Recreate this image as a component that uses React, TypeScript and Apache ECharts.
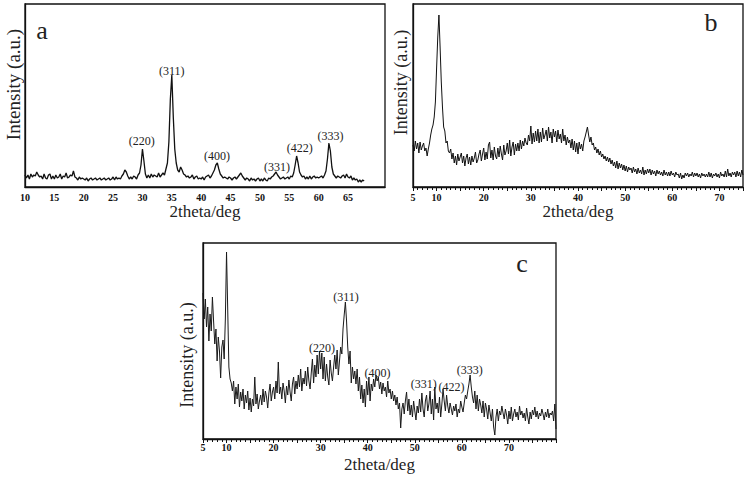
import React, { useEffect, useRef } from "react";
import * as echarts from "echarts";

// ---- Panel a: 2theta from 10.00 deg, step 0.25 deg ----
const aStart = 10;
const aStep = 0.25;
const aIntensity = [
  12, 9, 12, 8, 13, 10, 12, 11, 15, // 10.00-12.00
  12, 10, 11, 8, 13, 9, 8, 12, // 12.25-14
  13, 8, 11, 8, 12, 9, 10, 13, // 14.25-16
  8, 11, 10, 14, 9, 10, 12, 11, // 16.25-18
  16, 10, 9, 7, 10, 8, 9, 8, // 18.25-20
  7, 9, 6, 8, 9, 7, 8, 9, // 20.25-22
  7, 8, 9, 7, 8, 9, 7, 8, // 22.25-24
  9, 7, 8, 10, 7, 10, 8, 9, // 24.25-26
  8, 11, 13, 17, 15, 11, 8, 10, // 26.25-28
  8, 11, 10, 8, 12, 14, 22, 38, // 28.25-30
  26, 13, 9, 12, 9, 13, 10, 12, // 30.25-32
  11, 10, 14, 10, 12, 14, 12, 18, // 32.25-34
  24, 45, 88, 112, 70, 38, 24, 17, // 34.25-36
  15, 20, 17, 13, 12, 10, 11, 9, // 36.25-38
  10, 12, 8, 10, 11, 8, 9, 8, // 38.25-40
  10, 7, 10, 11, 12, 9, 11, 14, // 40.25-42
  17, 22, 24, 18, 13, 11, 9, 10, // 42.25-44
  9, 8, 10, 9, 7, 9, 10, 8, // 44.25-46
  10, 12, 14, 11, 9, 7, 9, 8, // 46.25-48
  6, 9, 7, 8, 6, 8, 9, 6, // 48.25-50
  8, 6, 9, 7, 6, 9, 8, 10, // 50.25-52
  11, 13, 15, 12, 10, 8, 9, 10, // 52.25-54
  8, 9, 10, 8, 11, 10, 14, 22, // 54.25-56
  31, 24, 15, 12, 10, 11, 8, 10, // 56.25-58
  8, 11, 8, 10, 11, 9, 10, 9, // 58.25-60
  10, 11, 9, 12, 16, 28, 44, 36, // 60.25-62
  20, 13, 11, 9, 11, 10, 9, 11, // 62.25-64
  12, 9, 13, 10, 9, 11, 7, 9, // 64.25-66
  7, 8, 5, 7, 5, 7, 6, // 66.25-67.75
];
const aPeakNames = ["(220)", "(311)", "(400)", "(331)", "(422)", "(333)"];
const aPeakPos = [29.9, 35.0, 42.7, 52.9, 56.8, 62.0];
const aPeakLabelBase = [40, 110, 25, 14, 33, 45];

// ---- Panel b: 2theta from 5.00 deg, step 0.25 deg ----
const bStart = 5;
const bStep = 0.25;
const bIntensity = [
  42, 36, 46, 38, 44, 34, 45, 37, 41, // 5.00-7.00
  44, 36, 39, 31, 38, 44, 52, 58, // 7.25-9
  62, 70, 85, 118, 150, 172, 140, 105, // 9.25-11
  80, 60, 56, 44, 46, 36, 34, 38, // 11.25-13
  28, 34, 24, 31, 22, 33, 26, 30, // 13.25-15
  34, 24, 31, 21, 29, 33, 23, 30, // 15.25-17
  22, 31, 25, 29, 35, 24, 27, 33, // 17.25-19
  37, 26, 33, 39, 27, 35, 28, 42, // 19.25-21
  45, 29, 37, 27, 40, 31, 28, 39, // 21.25-23
  30, 41, 33, 27, 42, 32, 36, 44, // 23.25-25
  33, 47, 31, 40, 45, 32, 43, 36, // 25.25-27
  44, 36, 47, 38, 46, 41, 49, 44, // 27.25-29
  42, 52, 46, 61, 43, 54, 45, 56, // 29.25-31
  46, 58, 44, 55, 45, 59, 48, 52, // 31.25-33
  57, 46, 60, 49, 55, 44, 58, 50, // 33.25-35
  56, 45, 57, 48, 53, 44, 58, 46, // 35.25-37
  52, 42, 50, 44, 47, 39, 48, 37, // 37.25-39
  46, 35, 44, 33, 45, 38, 43, 36, // 39.25-41
  46, 50, 55, 60, 52, 45, 50, 42, // 41.25-43
  44, 37, 40, 34, 38, 32, 36, 30, // 43.25-45
  33, 28, 31, 26, 30, 25, 29, 23, // 45.25-47
  27, 21, 25, 19, 26, 18, 24, 19, // 47.25-49
  23, 17, 22, 16, 21, 15, 20, 17, // 49.25-51
  19, 14, 20, 15, 18, 13, 19, 14, // 51.25-53
  17, 13, 20, 12, 17, 13, 18, 14, // 53.25-55
  18, 12, 17, 13, 16, 11, 17, 13, // 55.25-57
  16, 12, 15, 11, 17, 12, 15, 11, // 57.25-59
  15, 11, 16, 12, 14, 10, 15, 12, // 59.25-61
  13, 9, 14, 8, 12, 9, 14, 11, // 61.25-63
  14, 10, 13, 11, 15, 10, 14, 11, // 63.25-65
  14, 10, 13, 9, 14, 11, 13, 10, // 65.25-67
  13, 10, 15, 10, 14, 9, 13, 11, // 67.25-69
  14, 10, 13, 9, 15, 11, 13, 10, // 69.25-71
  16, 10, 18, 11, 14, 10, 15, 12, // 71.25-73
  15, 10, 16, 11, 15, 10, 17, 12, // 73.25-75
];

// ---- Panel c: 2theta from 5.00 deg, step 0.25 deg ----
const cStart = 5;
const cStep = 0.25;
const cIntensity = [
  146, 120, 140, 112, 132, 98, 125, 108, 142, // 5.00-7.00
  118, 95, 110, 78, 102, 88, 61, 92, // 7.25-9
  99, 80, 120, 187, 130, 72, 60, 56, // 9.25-11
  48, 58, 35, 52, 40, 55, 32, 47, // 11.25-13
  38, 50, 30, 44, 36, 48, 29, 41, // 13.25-15
  27, 40, 33, 62, 35, 45, 30, 38, // 15.25-17
  44, 34, 50, 37, 48, 42, 31, 46, // 17.25-19
  55, 38, 47, 52, 40, 58, 46, 77, // 19.25-21
  45, 52, 40, 56, 48, 36, 53, 44, // 21.25-23
  59, 47, 38, 55, 62, 45, 58, 50, // 23.25-25
  64, 52, 70, 48, 61, 55, 68, 53, // 25.25-27
  72, 58, 50, 66, 80, 56, 74, 62, // 27.25-29
  84, 65, 88, 70, 86, 60, 82, 58, // 29.25-31
  75, 62, 54, 79, 66, 58, 72, 84, // 31.25-33
  70, 89, 64, 78, 92, 85, 110, 124, // 33.25-35
  137, 118, 92, 75, 88, 56, 72, 60, // 35.25-37
  68, 55, 70, 48, 62, 40, 54, 36, // 37.25-39
  50, 32, 58, 44, 62, 38, 55, 48, // 39.25-41
  60, 52, 64, 58, 62, 50, 57, 45, // 41.25-43
  56, 48, 52, 42, 58, 46, 50, 40, // 43.25-45
  48, 38, 44, 34, 42, 30, 36, 11, // 45.25-47
  30, 36, 25, 38, 47, 28, 40, 24, // 47.25-49
  34, 22, 38, 28, 19, 33, 26, 40, // 49.25-51
  27, 46, 30, 22, 38, 44, 28, 35, // 51.25-53
  48, 25, 40, 19, 52, 30, 36, 26, // 53.25-55
  42, 22, 35, 50, 38, 28, 44, 33, // 55.25-57
  26, 36, 30, 24, 33, 28, 35, 22, // 57.25-59
  30, 26, 38, 32, 27, 36, 44, 40, // 59.25-61
  48, 55, 64, 52, 42, 36, 48, 30, // 61.25-63
  44, 28, 40, 34, 26, 38, 22, 36, // 63.25-65
  30, 20, 34, 26, 18, 30, 12, 4, // 65.25-67
  22, 30, 18, 28, 24, 33, 26, 20, // 67.25-69
  30, 24, 15, 28, 20, 32, 18, 25, // 69.25-71
  30, 22, 27, 19, 33, 24, 28, 21, // 71.25-73
  26, 18, 31, 22, 15, 27, 20, 29, // 73.25-75
  24, 32, 22, 28, 20, 26, 23, 30, // 75.25-77
  25, 19, 27, 22, 30, 21, 26, 24, // 77.25-79
  28, 18, 35, 10, // 79.25-80
];
const cPeakNames = ["(220)", "(311)", "(400)", "(331)", "(422)", "(333)"];
const cPeakPos = [30.3, 35.4, 42.1, 51.9, 57.8, 61.7];
const cPeakLabelBase = [85, 136, 60, 49, 46, 63];

const SERIF = "'Liberation Serif', 'Times New Roman', serif";

function toPairs(start: number, step: number, vals: number[]) {
  return vals.map((v, i) => [start + i * step, v]);
}

function peakMarks(names: string[], pos: number[], ys: number[]) {
  return {
    symbol: "circle",
    symbolSize: 0,
    silent: true,
    itemStyle: { color: "#222" },
    label: {
      show: true,
      position: "top",
      distance: 0,
      formatter: "{b}",
      color: "#222",
      fontSize: 12,
      fontFamily: SERIF,
    },
    data: names.map((n, i) => ({ name: n, coord: [pos[i], ys[i]] })),
  };
}

export default function App() {
  const ref = useRef<HTMLDivElement>(null);
  useEffect(() => {
    if (!ref.current) return;
    const chart = echarts.init(ref.current, undefined, { renderer: "svg" });

    const xLabelStyle = {
      fontFamily: SERIF,
      fontWeight: "bold" as const,
      fontSize: 10,
      color: "#111",
    };
    const axisLine = { show: true, lineStyle: { color: "#111", width: 1.3 } };
    const nameStyle = { fontFamily: SERIF, fontSize: 17, color: "#222" };

    chart.setOption({
      animation: false,
      backgroundColor: "#fff",
      grid: [
        { left: 25, top: 4, width: 360, height: 183, show: true, borderColor: "#111", borderWidth: 1.3 },
        { left: 413, top: 4, width: 330, height: 183, show: true, borderColor: "#111", borderWidth: 1.3 },
        { left: 203, top: 243, width: 353, height: 196, show: true, borderColor: "#111", borderWidth: 1.3 },
      ],
      xAxis: [
        {
          gridIndex: 0, type: "value", min: 10, max: 71.3, interval: 5,
          axisLine, axisTick: { show: false }, splitLine: { show: false },
          axisLabel: { ...xLabelStyle, margin: 5, formatter: (v: number) => (v >= 70 ? "" : String(v)) },
          name: "2theta/deg", nameLocation: "middle", nameGap: 10, nameTextStyle: nameStyle,
        },
        {
          gridIndex: 1, type: "value", min: 5, max: 75, interval: 5,
          axisLine, splitLine: { show: false },
          axisTick: { show: true, length: 4, lineStyle: { color: "#111" } },
          minorTick: { show: true, splitNumber: 5, length: 3, lineStyle: { color: "#111" } },
          axisLabel: { ...xLabelStyle, margin: 5, formatter: (v: number) => (v === 5 || (v % 10 === 0 && v < 75) ? String(v) : "") },
          name: "2theta/deg", nameLocation: "middle", nameGap: 11, nameTextStyle: nameStyle,
        },
        {
          gridIndex: 2, type: "value", min: 5, max: 80, interval: 5,
          axisLine, splitLine: { show: false },
          axisTick: { show: true, length: 4, lineStyle: { color: "#111" } },
          minorTick: { show: true, splitNumber: 5, length: 3, lineStyle: { color: "#111" } },
          axisLabel: { ...xLabelStyle, margin: 3, formatter: (v: number) => (v === 5 || (v % 10 === 0 && v < 80) ? String(v) : "") },
          name: "2theta/deg", nameLocation: "middle", nameGap: 17, nameTextStyle: nameStyle,
        },
      ],
      yAxis: [
        {
          gridIndex: 0, type: "value", min: 0, max: 183,
          axisLine, axisTick: { show: false }, axisLabel: { show: false }, splitLine: { show: false },
          name: "Intensity (a.u.)", nameLocation: "middle", nameGap: 2,
          nameTextStyle: { ...nameStyle, fontSize: 19, padding: [0, 0, 0, 22] },
        },
        {
          gridIndex: 1, type: "value", min: 0, max: 183,
          axisLine, axisTick: { show: false }, axisLabel: { show: false }, splitLine: { show: false },
          name: "Intensity (a.u.)", nameLocation: "middle", nameGap: 3,
          nameTextStyle: { ...nameStyle, fontSize: 18, padding: [0, 0, 0, 26] },
        },
        {
          gridIndex: 2, type: "value", min: 0, max: 196,
          axisLine, axisTick: { show: false }, axisLabel: { show: false }, splitLine: { show: false },
          name: "Intensity (a.u.)", nameLocation: "middle", nameGap: 7,
          nameTextStyle: { ...nameStyle, fontSize: 18, padding: [0, 28, 0, 0] },
        },
      ],
      series: [
        {
          name: "a", type: "line", xAxisIndex: 0, yAxisIndex: 0, showSymbol: false,
          lineStyle: { color: "#111", width: 1.3 }, data: toPairs(aStart, aStep, aIntensity),
          markPoint: peakMarks(aPeakNames, aPeakPos, aPeakLabelBase),
        },
        {
          name: "b", type: "line", xAxisIndex: 1, yAxisIndex: 1, showSymbol: false,
          lineStyle: { color: "#111", width: 1 }, data: toPairs(bStart, bStep, bIntensity),
        },
        {
          name: "c", type: "line", xAxisIndex: 2, yAxisIndex: 2, showSymbol: false,
          lineStyle: { color: "#1a1a1a", width: 1 }, data: toPairs(cStart, cStep, cIntensity),
          markPoint: peakMarks(cPeakNames, cPeakPos, cPeakLabelBase),
        },
      ],
      graphic: [
        { type: "text", x: 42, y: 30, style: { text: "a", fontSize: 26, fontFamily: SERIF, fill: "#222", textAlign: "center", textVerticalAlign: "middle" } },
        { type: "text", x: 711, y: 22, style: { text: "b", fontSize: 26, fontFamily: SERIF, fill: "#222", textAlign: "center", textVerticalAlign: "middle" } },
        { type: "text", x: 522, y: 263, style: { text: "c", fontSize: 26, fontFamily: SERIF, fill: "#222", textAlign: "center", textVerticalAlign: "middle" } },
      ],
    });
    return () => chart.dispose();
  }, []);
  return (
    <div
      ref={ref}
      style={{ position: "fixed", left: 0, top: 0, width: 749, height: 483, background: "#fff" }}
    />
  );
}
